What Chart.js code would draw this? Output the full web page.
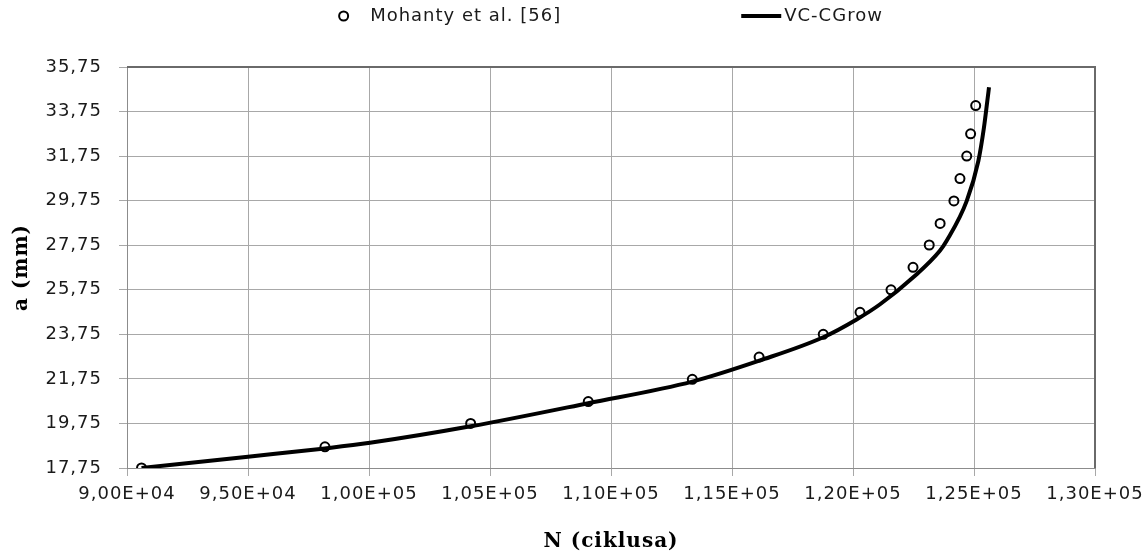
<!DOCTYPE html>
<html><head><meta charset="utf-8">
<script src="https://cdn.jsdelivr.net/npm/chart.js@4.4.1/dist/chart.umd.min.js"></script>
<style>html,body{margin:0;padding:0;background:#fff}</style>
</head><body>
<canvas id="c" width="1148" height="556"></canvas>
<script>
// ---- data ----
const seriesNames = ['Mohanty et al. [56]', 'VC-CGrow'];
const mohantyN = [90600, 98180, 104200, 109060, 113360, 116120, 118770, 120290, 121570, 122480, 123150, 123600, 124170, 124420, 124700, 124860, 125070];
const mohantyA = [17.75, 18.70, 19.75, 20.73, 21.73, 22.73, 23.75, 24.74, 25.75, 26.76, 27.76, 28.73, 29.74, 30.74, 31.75, 32.75, 34.02];
const vcN = [90600, 95000, 98180, 100040, 104200, 109060, 113360, 116160, 118770, 120150, 121120, 122490, 123590, 123870, 124700, 125180, 125410, 125550, 125620];
const vcA = [17.75, 18.26, 18.63, 18.88, 19.62, 20.66, 21.63, 22.58, 23.62, 24.42, 25.10, 26.31, 27.50, 27.95, 29.74, 31.53, 33.02, 34.22, 34.84];
const xTickValues = [90000, 95000, 100000, 105000, 110000, 115000, 120000, 125000, 130000];
const xTickLabels = ['9,00E+04', '9,50E+04', '1,00E+05', '1,05E+05', '1,10E+05', '1,15E+05', '1,20E+05', '1,25E+05', '1,30E+05'];
const yTickValues = [17.75, 19.75, 21.75, 23.75, 25.75, 27.75, 29.75, 31.75, 33.75, 35.75];
const yTickLabels = ['17,75', '19,75', '21,75', '23,75', '25,75', '27,75', '29,75', '31,75', '33,75', '35,75'];
const xTitle = 'N (ciklusa)';
const yTitle = 'a (mm)';

const toXY = (xs, ys) => xs.map((x, i) => ({x: x, y: ys[i]}));

const LS = '1px';
const spacingPlugin = {
  id: 'spacing',
  beforeLayout(chart) { chart.ctx.letterSpacing = LS; },
  beforeDraw(chart) { chart.ctx.letterSpacing = LS; }
};

const framePlugin = {
  id: 'frame',
  afterDatasetsDraw(chart) {
    const {ctx, chartArea: a} = chart;
    ctx.save();
    ctx.strokeStyle = '#6a6a6a';
    ctx.lineWidth = 2;
    ctx.beginPath();
    ctx.moveTo(a.left, a.top);
    ctx.lineTo(a.right, a.top);
    ctx.lineTo(a.right, a.bottom);
    ctx.stroke();
    ctx.restore();
  }
};

const legendPlugin = {
  id: 'customLegend',
  afterDraw(chart) {
    const ctx = chart.ctx;
    const ds = chart.data.datasets;
    ctx.save();
    ctx.letterSpacing = LS;
    ctx.font = '18px "DejaVu Sans"';
    ctx.fillStyle = '#1a1a1a';
    ctx.textBaseline = 'middle';
    const y = 16;
    const w1 = ctx.measureText(ds[0].label).width;
    const w2 = ctx.measureText(ds[1].label).width;
    const total = 9 + 22 + w1 + 180 + 40 + 3 + w2;
    const a = chart.chartArea;
    let x = (a.left + a.right) / 2 - total / 2;
    ctx.beginPath();
    ctx.arc(x + 4.5, y, 4.5, 0, Math.PI * 2);
    ctx.lineWidth = 2;
    ctx.strokeStyle = ds[0].borderColor;
    ctx.stroke();
    x += 9 + 22;
    ctx.textAlign = 'left';
    ctx.fillText(ds[0].label, x, y);
    x += w1 + 180;
    ctx.beginPath();
    ctx.moveTo(x, y);
    ctx.lineTo(x + 40, y);
    ctx.lineWidth = 4;
    ctx.strokeStyle = ds[1].borderColor;
    ctx.stroke();
    x += 43;
    ctx.fillText(ds[1].label, x, y);
    ctx.restore();
  }
};

new Chart(document.getElementById('c'), {
  type: 'scatter',
  data: {
    datasets: [
      {
        label: seriesNames[0],
        data: toXY(mohantyN, mohantyA),
        showLine: false,
        pointStyle: 'circle',
        pointRadius: 4.5,
        pointHoverRadius: 4.5,
        borderWidth: 2,
        borderColor: '#000',
        backgroundColor: 'rgba(0,0,0,0)',
        order: 0
      },
      {
        label: seriesNames[1],
        data: toXY(vcN, vcA),
        showLine: true,
        pointRadius: 0,
        borderWidth: 4,
        borderColor: '#000',
        backgroundColor: '#000',
        cubicInterpolationMode: 'monotone',
        order: 1
      }
    ]
  },
  options: {
    responsive: false,
    animation: false,
    devicePixelRatio: 1,
    layout: {padding: {top: 67, left: 8, right: 0, bottom: 2}},
    plugins: {legend: {display: false}, tooltip: {enabled: false}},
    scales: {
      x: {
        type: 'linear',
        min: 90000, max: 130000,
        afterBuildTicks: s => { s.ticks = xTickValues.map(v => ({value: v})); },
        afterFit: s => { s.paddingRight = 53; s.height = 86; },
        ticks: {
          autoSkip: false, maxRotation: 0, padding: 8,
          color: '#1a1a1a',
          font: {family: 'DejaVu Sans', size: 18},
          callback: (v, i) => xTickLabels[i]
        },
        grid: {color: '#a8a8a8', lineWidth: 1, tickLength: 8, tickColor: '#a8a8a8'},
        border: {color: '#8c8c8c', width: 1},
        title: {
          display: true, text: xTitle, color: '#000',
          font: {family: 'DejaVu Serif', size: 20, weight: 'bold'},
          padding: {top: 18, bottom: 0}
        }
      },
      y: {
        type: 'linear',
        min: 17.75, max: 35.75,
        afterBuildTicks: s => { s.ticks = yTickValues.map(v => ({value: v})); },
        afterFit: s => { s.width = 119; },
        ticks: {
          autoSkip: false, padding: 17,
          color: '#1a1a1a',
          font: {family: 'DejaVu Sans', size: 18},
          callback: (v, i) => yTickLabels[i]
        },
        grid: {color: '#a8a8a8', lineWidth: 1, tickLength: 8, tickColor: '#a8a8a8'},
        border: {color: '#8c8c8c', width: 1},
        title: {
          display: true, text: yTitle, color: '#000',
          font: {family: 'DejaVu Serif', size: 20, weight: 'bold'},
          padding: {top: 2, bottom: 9}
        }
      }
    }
  },
  plugins: [spacingPlugin, framePlugin, legendPlugin]
});
</script>
</body></html>
